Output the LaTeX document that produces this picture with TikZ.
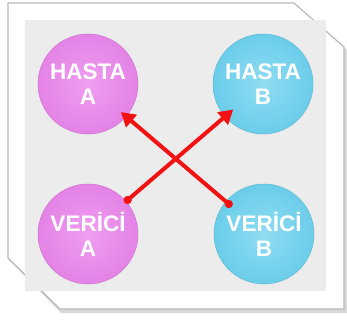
\documentclass[tikz,border=0pt]{standalone}
\usepackage{fontspec}
\setmainfont{Liberation Sans}
\usetikzlibrary{arrows.meta}
\definecolor{pinkfill}{HTML}{EE90EE}
\definecolor{pinkedge}{HTML}{E383E6}
\definecolor{cyanfill}{HTML}{80D8F1}
\definecolor{cyanedge}{HTML}{6BCDEA}
\definecolor{panel}{HTML}{ECECEC}
\definecolor{arrowred}{HTML}{F21212}
\tikzset{
  ball/.style={circle, minimum size=100pt, inner sep=0pt, align=center,
    text=white, font=\bfseries\fontsize{22.5}{25}\selectfont},
  pinkball/.style={ball, shade, shading=radial, inner color=pinkfill!88!white, outer color=pinkedge, draw=pinkedge!90!black, line width=0.5pt},
  cyanball/.style={ball, shade, shading=radial, inner color=cyanfill!88!white, outer color=cyanedge, draw=cyanedge!90!black, line width=0.5pt},
  redarrow/.style={draw=arrowred, line width=4pt, {Circle[length=8pt]}-{Triangle[length=14pt,width=16pt]}}
}
\begin{document}
\begin{tikzpicture}[x=1pt,y=-1pt]
\useasboundingbox (0,0) rectangle (347,320);
\path[fill=gray!30] (10,5) -- (296,5) -- (347,50) -- (347,313) -- (61,313) -- (9,260) -- cycle;
\path[fill=white, draw=gray!55, line width=1.2pt]
  (8,3) -- (294,3) -- (344,47) -- (344,309) -- (60,309) -- (8,258) -- cycle;
\fill[panel] (25,20) rectangle (326,291);
\node[pinkball] (ha) at (88,84) {HASTA\\A};
\node[cyanball] (hb) at (263,84) {HASTA\\B};
\node[pinkball] (va) at (88,234) {VERİCİ\\A};
\node[cyanball] (vb) at (264,234) {VERİCİ\\B};
\draw[redarrow, shorten >=-11pt, shorten <=-2pt] (va) -- (hb);
\draw[redarrow, shorten >=-7pt, shorten <=-8pt] (vb) -- (ha);
\end{tikzpicture}
\end{document}
